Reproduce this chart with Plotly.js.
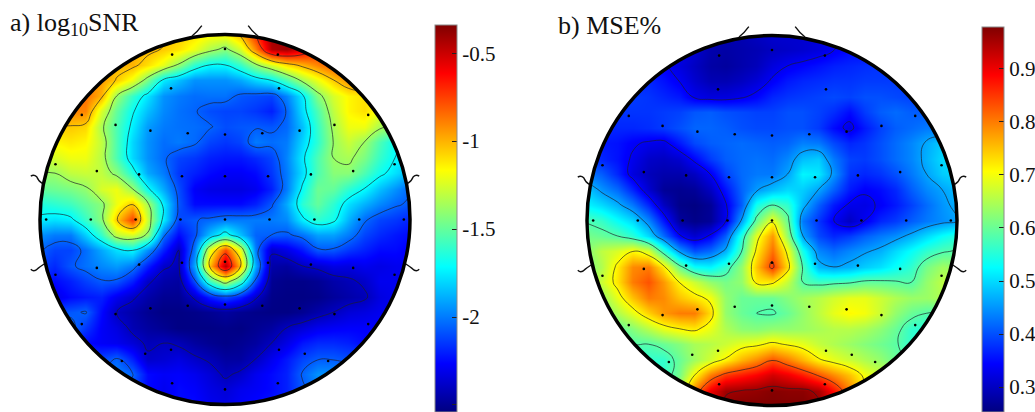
<!DOCTYPE html>
<html><head><meta charset="utf-8">
<script src="https://cdn.plot.ly/plotly-3.0.1.min.js"></script>
<style>html,body{margin:0;padding:0;background:#fff;overflow:hidden}#g{width:1035px;height:412px}</style>
</head><body><div id="g"></div>
<script>
const gridX=[-1,-.9167,-.8333,-.75,-.6667,-.5833,-.5,-.4167,-.3333,-.25,-.1667,-.0833,0,.0833,.1667,.25,.3333,.4167,.5,.5833,.6667,.75,.8333,.9167,1];
const gridY=gridX.slice().reverse();
const snrZ=[
[-1,-1,-1,-1,-1,-1,-1,-1,-1,-1.05,-1.1,-1.15,-1.15,-1,-.7,-.4,-.4,-.5,-.6,-.6,-.6,-.6,-.6,-.6,-.6],
[-1,-1,-1,-1,-1,-1,-1,-1,-1.05,-1.1,-1.2,-1.33,-1.42,-1.25,-.9,-.45,-.4,-.55,-.7,-.7,-.7,-.7,-.7,-.7,-.7],
[-1,-1,-1,-1,-1,-1,-1,-1.1,-1.22,-1.4,-1.62,-1.72,-1.72,-1.6,-1.4,-1.25,-1.1,-1,-.9,-.8,-.75,-.75,-.75,-.75,-.75],
[-.9,-.9,-.9,-.9,-.95,-1.05,-1.2,-1.45,-1.75,-1.85,-1.95,-1.95,-1.95,-1.9,-1.8,-1.72,-1.55,-1.35,-1.2,-1.05,-.92,-.9,-.9,-.9,-.9],
[-.85,-.85,-.85,-.85,-1,-1.38,-1.6,-1.77,-1.95,-2,-2.03,-2.02,-2.02,-2.08,-2.1,-2.12,-1.98,-1.75,-1.43,-1.25,-1.15,-1.1,-1.1,-1.1,-1.1],
[-.9,-.9,-.9,-.9,-1.25,-1.5,-1.7,-1.85,-1.97,-2.02,-2.05,-2.1,-2.12,-2.12,-2.15,-2.2,-2.05,-1.78,-1.55,-1.3,-1.15,-1.1,-1.2,-1.2,-1.2],
[-1.05,-1.05,-1.05,-1.08,-1.35,-1.55,-1.75,-1.93,-2,-2.02,-2.03,-2.05,-2.1,-2.08,-2.07,-2.08,-2.04,-1.85,-1.6,-1.35,-1.2,-1.2,-1.35,-1.4,-1.4],
[-1.15,-1.15,-1.12,-1.15,-1.3,-1.55,-1.8,-1.95,-2.03,-2,-2.04,-2.12,-2.15,-2.12,-2,-2.03,-2,-1.8,-1.62,-1.38,-1.28,-1.38,-1.55,-1.7,-1.75],
[-1.3,-1.25,-1.2,-1.2,-1.32,-1.55,-1.8,-1.95,-2.04,-2.12,-2.15,-2.2,-2.22,-2.22,-2.18,-2.12,-1.98,-1.75,-1.55,-1.38,-1.35,-1.45,-1.6,-1.72,-1.8],
[-1.38,-1.38,-1.3,-1.28,-1.3,-1.42,-1.65,-1.9,-2,-2.15,-2.2,-2.25,-2.28,-2.28,-2.25,-2.15,-2,-1.78,-1.55,-1.42,-1.42,-1.55,-1.68,-1.78,-1.88],
[-1.5,-1.48,-1.45,-1.4,-1.25,-1.2,-1.38,-1.7,-1.9,-2.1,-2.28,-2.32,-2.33,-2.33,-2.3,-2.2,-2,-1.7,-1.48,-1.5,-1.62,-1.72,-1.85,-1.95,-2.05],
[-1.65,-1.62,-1.58,-1.5,-1.42,-1.2,-1.05,-1.35,-1.75,-2.08,-2.25,-2.25,-2.25,-2.25,-2.2,-2.08,-1.9,-1.62,-1.5,-1.62,-1.78,-1.88,-1.97,-2.04,-2.08],
[-1.75,-1.78,-1.75,-1.6,-1.42,-1.05,-.75,-1.28,-1.75,-2.12,-2.07,-2.04,-2,-2,-2,-2,-1.97,-1.75,-1.62,-1.68,-1.88,-2.04,-2.12,-2.15,-2.2],
[-1.95,-2,-2,-1.82,-1.6,-1.3,-1.25,-1.4,-2.03,-2.25,-2.1,-1.85,-1.65,-1.85,-2.05,-2.06,-2.08,-2.02,-1.92,-1.92,-2,-2.12,-2.18,-2.22,-2.25],
[-2.05,-2.12,-2.12,-2.03,-1.9,-1.78,-1.72,-1.95,-2.2,-2.4,-2,-1.22,-.77,-1.22,-2,-2.38,-2.32,-2.22,-2.08,-2.08,-2.15,-2.2,-2.25,-2.25,-2.28],
[-2.12,-2.18,-2.08,-2.02,-1.97,-1.93,-2,-2.2,-2.38,-2.42,-1.9,-1.03,-.45,-1.03,-1.9,-2.45,-2.47,-2.4,-2.37,-2.32,-2.33,-2.3,-2.32,-2.3,-2.3],
[-2.2,-2.25,-2.2,-2.13,-2.07,-2.08,-2.2,-2.38,-2.45,-2.47,-2.1,-1.58,-1.28,-1.58,-2.1,-2.5,-2.52,-2.52,-2.5,-2.45,-2.42,-2.38,-2.3,-2.3,-2.3],
[-2.3,-2.32,-2.25,-2.22,-2.2,-2.3,-2.38,-2.45,-2.5,-2.5,-2.38,-2.2,-2.1,-2.2,-2.38,-2.52,-2.53,-2.53,-2.52,-2.48,-2.45,-2.42,-2.33,-2.3,-2.3],
[-2.1,-2.1,-2.08,-2.05,-2.25,-2.4,-2.45,-2.5,-2.53,-2.53,-2.52,-2.5,-2.47,-2.5,-2.52,-2.53,-2.53,-2.5,-2.45,-2.4,-2.35,-2.33,-2.3,-2.3,-2.3],
[-2.05,-2.05,-2.02,-2.15,-2.28,-2.33,-2.43,-2.47,-2.5,-2.53,-2.53,-2.53,-2.52,-2.53,-2.5,-2.47,-2.4,-2.35,-2.3,-2.28,-2.27,-2.27,-2.27,-2.27,-2.27],
[-2.2,-2.2,-2.2,-2.25,-2.28,-2.3,-2.35,-2.42,-2.4,-2.42,-2.47,-2.5,-2.52,-2.5,-2.47,-2.4,-2.32,-2.22,-2.18,-2.18,-2.2,-2.25,-2.25,-2.25,-2.25],
[-2.15,-2.15,-2.15,-2.15,-2.12,-2.05,-2.2,-2.38,-2.36,-2.33,-2.38,-2.42,-2.47,-2.47,-2.4,-2.3,-2.22,-2.12,-2.07,-2.07,-2.1,-2.1,-2.1,-2.1,-2.1],
[-2.05,-2.05,-2.05,-2.05,-2.05,-1.98,-2.05,-2.25,-2.28,-2.27,-2.3,-2.35,-2.42,-2.38,-2.3,-2.25,-2.2,-2.05,-1.95,-1.95,-1.95,-1.95,-1.95,-1.95,-1.95],
[-2.05,-2.05,-2.05,-2.05,-2.05,-2.05,-2.1,-2.25,-2.3,-2.25,-2.27,-2.32,-2.35,-2.3,-2.28,-2.25,-2.2,-2.08,-2,-2,-2,-2,-2,-2,-2],
[-2.05,-2.05,-2.05,-2.05,-2.05,-2.05,-2.1,-2.25,-2.28,-2.25,-2.25,-2.3,-2.32,-2.28,-2.25,-2.22,-2.2,-2.1,-2,-2,-2,-2,-2,-2,-2]
];
const mseZ=[
[.33,.33,.33,.33,.33,.33,.33,.33,.3,.29,.29,.3,.31,.31,.31,.32,.33,.34,.34,.34,.34,.34,.34,.34,.34],
[.33,.33,.33,.33,.33,.33,.33,.31,.285,.28,.285,.29,.3,.305,.31,.32,.335,.35,.35,.35,.35,.35,.35,.35,.35],
[.35,.35,.35,.35,.35,.34,.32,.3,.28,.275,.285,.295,.32,.335,.345,.355,.365,.37,.375,.38,.38,.38,.38,.38,.38],
[.37,.37,.37,.37,.37,.355,.335,.31,.29,.29,.3,.315,.34,.36,.37,.375,.38,.38,.385,.385,.385,.385,.385,.385,.385],
[.385,.385,.385,.385,.38,.37,.36,.33,.32,.32,.33,.345,.37,.38,.385,.39,.395,.39,.4,.4,.395,.39,.39,.39,.39],
[.38,.38,.38,.38,.38,.385,.39,.405,.41,.4,.395,.39,.39,.4,.4,.39,.375,.35,.385,.41,.42,.41,.41,.41,.41],
[.37,.37,.37,.37,.375,.385,.4,.415,.415,.41,.4,.395,.395,.4,.4,.385,.35,.325,.36,.39,.41,.42,.43,.43,.43],
[.36,.36,.355,.34,.33,.325,.36,.395,.41,.415,.42,.415,.41,.415,.435,.43,.395,.37,.38,.4,.42,.44,.465,.49,.5],
[.38,.37,.355,.33,.305,.3,.31,.345,.385,.41,.42,.425,.42,.44,.48,.49,.43,.39,.385,.4,.42,.44,.47,.5,.5],
[.43,.41,.37,.32,.295,.285,.285,.3,.335,.39,.42,.43,.43,.46,.52,.51,.45,.38,.37,.38,.4,.43,.46,.49,.5],
[.49,.45,.42,.37,.31,.27,.265,.27,.3,.355,.415,.455,.48,.5,.49,.46,.41,.36,.34,.35,.37,.41,.44,.46,.48],
[.52,.5,.47,.43,.37,.3,.26,.255,.27,.33,.41,.54,.585,.56,.475,.41,.36,.33,.325,.34,.36,.39,.42,.45,.47],
[.58,.565,.53,.5,.44,.36,.275,.26,.27,.33,.46,.6,.7,.6,.43,.38,.335,.3,.335,.37,.385,.41,.43,.445,.46],
[.61,.6,.585,.555,.5,.42,.34,.31,.34,.41,.55,.69,.78,.63,.46,.395,.37,.385,.41,.43,.445,.47,.5,.53,.55],
[.62,.66,.68,.71,.68,.56,.455,.4,.42,.47,.58,.72,.81,.7,.54,.44,.42,.44,.455,.47,.5,.53,.56,.58,.59],
[.61,.65,.72,.79,.8,.72,.6,.53,.52,.56,.63,.75,.85,.73,.58,.475,.46,.47,.49,.505,.53,.56,.61,.64,.63],
[.62,.67,.725,.8,.83,.78,.71,.67,.63,.61,.63,.72,.72,.665,.585,.57,.575,.58,.595,.595,.59,.585,.63,.66,.67],
[.6,.63,.69,.75,.8,.79,.75,.725,.7,.63,.6,.6,.6,.62,.64,.655,.675,.69,.69,.67,.65,.635,.635,.65,.66],
[.6,.61,.65,.69,.74,.78,.8,.8,.73,.63,.6,.585,.58,.6,.63,.66,.69,.71,.7,.67,.63,.6,.585,.58,.58],
[.57,.57,.59,.62,.655,.69,.71,.72,.69,.65,.625,.62,.63,.63,.635,.645,.655,.655,.645,.625,.6,.56,.55,.55,.55],
[.57,.57,.57,.585,.585,.6,.62,.645,.655,.67,.69,.7,.72,.705,.69,.665,.65,.635,.62,.605,.59,.56,.55,.55,.55],
[.55,.55,.55,.55,.56,.56,.6,.64,.675,.715,.76,.79,.83,.8,.76,.715,.69,.67,.65,.63,.6,.58,.58,.58,.58],
[.56,.56,.56,.56,.56,.56,.61,.71,.8,.85,.87,.89,.92,.9,.87,.83,.79,.75,.7,.67,.67,.67,.67,.67,.67],
[.6,.6,.6,.6,.6,.6,.65,.8,.9,.955,.96,.965,.975,.97,.97,.95,.88,.8,.72,.7,.7,.7,.7,.7,.7],
[.65,.65,.65,.65,.65,.7,.75,.85,.92,.97,.98,.98,.98,.98,.98,.97,.92,.85,.78,.72,.72,.72,.72,.72,.72]
];
const elecX=[0,-.285,.285,-.291,.291,-.772,.772,-.59,.59,-.402,.402,-.201,.201,0,-.914,.914,-.691,.691,-.463,.463,-.232,.232,0,-.964,.964,-.7235,.7235,-.482,.482,-.24,.24,0,-.914,.914,-.691,.691,-.463,.463,-.232,.232,0,-.772,.772,-.59,.59,-.402,.402,-.201,.201,0,-.43,.43,-.291,.291,-.556,.556,-.285,.285,0];
const elecY=[.919,.889,.889,.707,.707,.564,.564,.51,.51,.479,.479,.465,.465,.458,.298,.298,.261,.261,.243,.243,.233,.233,.233,0,0,0,0,0,0,0,0,0,-.298,-.298,-.261,-.261,-.243,-.243,-.233,-.233,-.228,-.564,-.564,-.51,-.51,-.479,-.479,-.465,-.465,-.458,-.724,-.724,-.702,-.702,-.763,-.763,-.883,-.883,-.916];
const snrTicks=[-0.5,-1,-1.5,-2,-2.5], snrTickText=['-0.5','-1','-1.5','-2','-2.5'];
const mseTicks=[0.9,0.8,0.7,0.6,0.5,0.4,0.3], mseTickText=['0.9','0.8','0.7','0.6','0.5','0.4','0.3'];
const snrLevels={start:-2.4,end:-0.7,size:0.34}, mseLevels={start:0.335,end:0.96,size:0.125};
const W=1035,H=412, serif='"Liberation Serif",serif';
const jet=[[0,'rgb(0,0,128)'],[.125,'rgb(0,0,255)'],[.375,'rgb(0,255,255)'],[.625,'rgb(255,255,0)'],[.875,'rgb(255,0,0)'],[1,'rgb(128,0,0)']];
const px=x=>x/W, py=y=>1-y/H;

function panel(n,z,lv,zmin,zmax,barX,barTop,ticks,text){
  const xa='x'+(n>1?n:''), ya='y'+(n>1?n:'');
  const barLen=H-barTop;
  return [
   {type:'heatmap',x:gridX,y:gridY,z:z,xaxis:xa,yaxis:ya,zsmooth:'best',zmin:zmin,zmax:zmax,colorscale:jet,hoverinfo:'skip',
    colorbar:{x:px(barX),xanchor:'left',xpad:0,ypad:0,thickness:22,thicknessmode:'pixels',len:barLen,lenmode:'pixels',y:py(barTop),yanchor:'top',
      outlinecolor:'#8a8a8a',outlinewidth:1,ticks:'inside',ticklen:5,tickcolor:'#222',tickwidth:1,tickmode:'array',tickvals:ticks,ticktext:text,
      tickfont:{family:serif,size:21,color:'#111'},ticklabelposition:'outside'}},
   {type:'contour',x:gridX,y:gridY,z:z,xaxis:xa,yaxis:ya,showscale:false,hoverinfo:'skip',autocontour:false,
    contours:{coloring:'none',start:lv.start,end:lv.end,size:lv.size},line:{color:'rgba(30,30,40,0.75)',width:0.9,smoothing:1.3}},
   {type:'scatter',mode:'markers',x:elecX,y:elecY,xaxis:xa,yaxis:ya,hoverinfo:'skip',marker:{color:'#000',size:2.6}}
  ];
}
function headShapes(cx,cy,r){
  const k=.5523*r, X=u=>px(cx+u*r), Y=v=>py(cy-v*r);
  const ox=px(cx-r-3), oX=px(cx+r+3), oy=py(cy-r-3), oY=py(cy+r+3);
  const x0=px(cx-r),x1=px(cx+r),xm=px(cx),y0=py(cy-r),y1=py(cy+r),ym=py(cy);
  const kx=k/W, ky=k/H;
  const hole=`M${x0},${ym}C${x0},${ym+ky} ${xm-kx},${y0} ${xm},${y0}C${xm+kx},${y0} ${x1},${ym+ky} ${x1},${ym}C${x1},${ym-ky} ${xm+kx},${y1} ${xm},${y1}C${xm-kx},${y1} ${x0},${ym-ky} ${x0},${ym}Z`;
  const s=[{type:'path',xref:'paper',yref:'paper',path:`M${ox},${oy}L${oX},${oy}L${oX},${oY}L${ox},${oY}Z`+hole,fillcolor:'#fff',line:{width:0},layer:'above'},
    {type:'circle',xref:'paper',yref:'paper',x0:px(cx-r+.5),x1:px(cx+r-.5),y0:py(cy-r+.5),y1:py(cy+r-.5),line:{color:'#000',width:3.5},layer:'above'}];
  const ln={color:'#111',width:1.4};
  const add=p=>s.push({type:'path',xref:'paper',yref:'paper',path:p,line:ln,layer:'above'});
  for(const m of [-1,1]){
    add(`M${X(m*.178)},${Y(.989)}Q${X(m*.15)},${Y(1.01)} ${X(m*.125)},${Y(1.045)}`);
    add(`M${X(m*1.047)},${Y(.234)}Q${X(m*1.03)},${Y(.245)} ${X(m*1.015)},${Y(.23)}Q${X(m*1.005)},${Y(.205)} ${X(m*.985)},${Y(.195)}`);
    add(`M${X(m*1.047)},${Y(-.268)}Q${X(m*1.03)},${Y(-.285)} ${X(m*1.01)},${Y(-.265)}Q${X(m*.998)},${Y(-.255)} ${X(m*.975)},${Y(-.24)}`);
  }
  return s;
}
function barLeftTicks(barX,barTop,zmin,zmax,ticks){
  return ticks.map(v=>{const y=barTop+(zmax-v)/(zmax-zmin)*(H-barTop);
    return {type:'line',xref:'paper',yref:'paper',x0:px(barX),x1:px(barX+5),y0:py(y),y1:py(y),line:{color:'#222',width:1},layer:'above'};});
}
const A={cx:225,cy:219.5,r:185.5}, B={cx:772,cy:220.5,r:185.5};
const data=[...panel(1,snrZ,snrLevels,-2.54,-0.34,435,25,snrTicks,snrTickText),
            ...panel(2,mseZ,mseLevels,0.253,0.979,982,27,mseTicks,mseTickText)];
const hidden=(d,anc)=>({domain:d,range:[-1,1],visible:false,fixedrange:true,anchor:anc});
const layout={width:W,height:H,margin:{l:0,r:0,t:0,b:0,autoexpand:false},paper_bgcolor:'#fff',plot_bgcolor:'#fff',showlegend:false,
  xaxis:hidden([px(A.cx-A.r),px(A.cx+A.r)],'y'),yaxis:hidden([py(A.cy+A.r),py(A.cy-A.r)],'x'),
  xaxis2:hidden([px(B.cx-B.r),px(B.cx+B.r)],'y2'),yaxis2:hidden([py(B.cy+B.r),py(B.cy-B.r)],'x2'),
  shapes:[...headShapes(A.cx,A.cy,A.r),...headShapes(B.cx,B.cy,B.r),...barLeftTicks(435,25,-2.54,-0.34,snrTicks),...barLeftTicks(982,27,0.253,0.979,mseTicks)],
  annotations:[
   {xref:'paper',yref:'paper',x:px(8),y:py(42),xanchor:'left',yanchor:'bottom',showarrow:false,align:'left',text:'a) log<sub>10</sub>SNR',font:{family:serif,size:26,color:'#111'}},
   {xref:'paper',yref:'paper',x:px(556),y:py(42),xanchor:'left',yanchor:'bottom',showarrow:false,align:'left',text:'b) MSE%',font:{family:serif,size:26,color:'#111'}}
  ]};
Plotly.newPlot('g',data,layout,{displayModeBar:false,staticPlot:true});
</script></body></html>
